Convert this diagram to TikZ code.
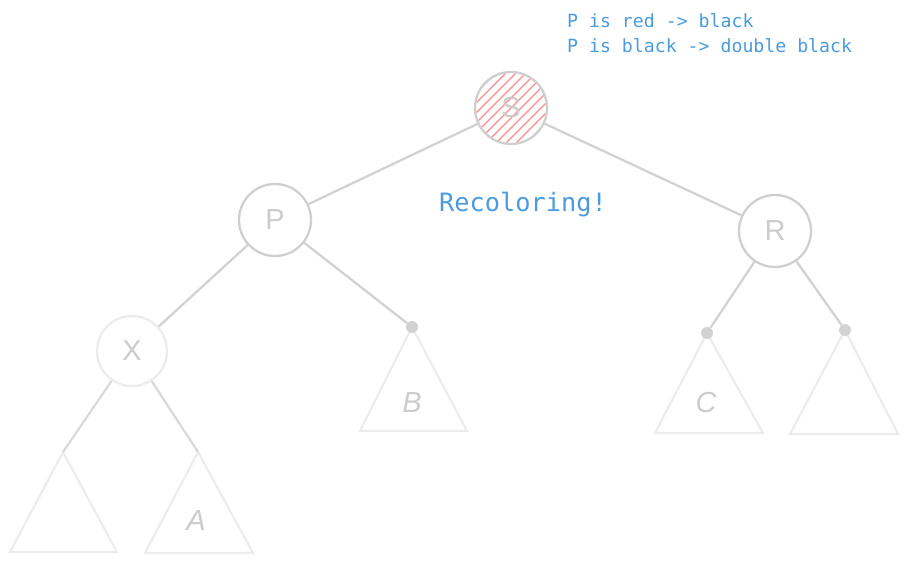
\documentclass[tikz,border=0pt]{standalone}
\usepackage{fontspec}
\setmainfont{Liberation Sans}
\newfontfamily\monof{DejaVu Sans Mono}
\begin{document}
\begin{tikzpicture}[x=1pt,y=-1pt,
  nodecirc/.style={circle,draw=gray!38,line width=2.3pt,minimum size=72pt,inner sep=0pt,text=gray!40,font=\fontsize{29}{30}\selectfont},
  lightcirc/.style={nodecirc,draw=gray!15,minimum size=70pt},
  edge/.style={draw=gray!35,line width=2.3pt},
  lightedge/.style={draw=gray!30,line width=2.2pt},
  tri/.style={draw=gray!15,line width=2.2pt,line join=miter},
  dotc/.style={circle,fill=gray!35,inner sep=0pt,minimum size=12pt},
  sublabel/.style={text=gray!40,font=\itshape\fontsize{29}{30}\selectfont},
  note/.style={text=blueN,font=\monof\fontsize{18.2}{25}\selectfont,align=left,anchor=north west,inner sep=0pt},
]
\definecolor{blueN}{HTML}{4A9BE0}
\definecolor{hatchR}{HTML}{FF8A8A}
\useasboundingbox (0,0) rectangle (907,564);
% hatch in S
\begin{scope}
  \clip (511,108) circle (35pt);
  \foreach \k in {-100,-90,...,110}{
    \draw[hatchR,line width=1.3pt] (511+\k-60,108+60) -- (511+\k+60,108-60);
  }
\end{scope}
\node[nodecirc] (S) at (511,108) {S};
\node[nodecirc] (P) at (275,220) {P};
\node[nodecirc] (R) at (775,231) {R};
\node[lightcirc] (X) at (132,351) {X};

% triangles
\coordinate (tB) at (412,327);
\coordinate (tC) at (707,333);
\coordinate (tR) at (845,330);
\coordinate (tL) at (63,452);
\coordinate (tA) at (198,452);
\draw[tri] (tB) -- (467,431) -- (360,431) -- cycle;
\draw[tri] (tC) -- (763,433) -- (655,433) -- cycle;
\draw[tri] (tR) -- (898,434) -- (790,434) -- cycle;
\draw[tri] (tL) -- (117,552) -- (10,552) -- cycle;
\draw[tri] (tA) -- (253,553) -- (145,553) -- cycle;

\node[dotc] (dB) at (tB) {};
\node[dotc] (dC) at (tC) {};
\node[dotc] (dR) at (tR) {};

\node[sublabel] (lB) at (412,403) {B};
\node[sublabel] (lC) at (706,403) {C};
\node[sublabel] (lA) at (196,521) {A};

% edges
\draw[edge] (S) -- (P);
\draw[edge] (S) -- (R);
\draw[edge] (P) -- (X);
\draw[edge] (P) -- (dB);
\draw[edge] (R) -- (dC);
\draw[edge] (R) -- (dR);
\draw[lightedge] (X) -- (tL);
\draw[lightedge] (X) -- (tA);

% texts
\node[text=blueN,font=\monof\fontsize{25.3}{28}\selectfont] (rec) at (523,205) {Recoloring!};
\node[note] (nt) at (567,13) {P is red -> black\\P is black -> double black};
\end{tikzpicture}
\end{document}
